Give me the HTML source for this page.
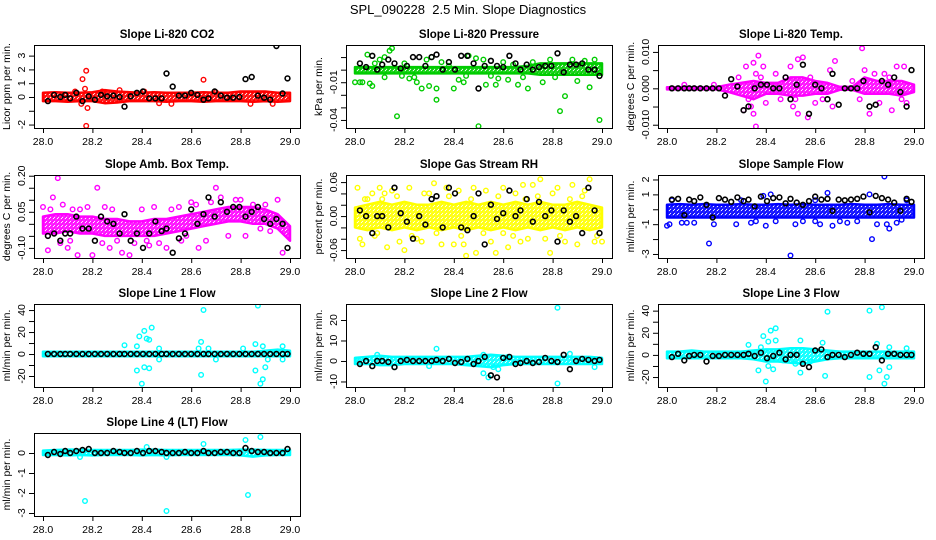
<!DOCTYPE html>
<html><head><meta charset="utf-8">
<style>
html,body{margin:0;padding:0;background:#fff;}
svg{display:block;font-family:"Liberation Sans",sans-serif;}
</style></head>
<body>
<svg id="chart" width="936" height="540" viewBox="0 0 936 540" xmlns="http://www.w3.org/2000/svg">
<rect width="936" height="540" fill="#fff"/>
<text x="468" y="14" text-anchor="middle" font-size="13" style="white-space:pre">SPL_090228  2.5 Min. Slope Diagnostics</text>
</svg>
<script>
// ---- shared data ----
const binX = [28.0,28.05,28.1,28.15,28.2,28.25,28.3,28.35,28.4,28.45,28.5,28.55,28.6,28.65,28.7,28.75,28.8,28.85,28.9,28.95,29.0];
const blackX = [28.02,28.045,28.07,28.09,28.11,28.135,28.16,28.185,28.21,28.235,28.26,28.285,28.31,28.33,28.355,28.38,28.405,28.43,28.455,28.48,28.5,28.525,28.55,28.575,28.6,28.625,28.65,28.67,28.695,28.72,28.745,28.77,28.795,28.82,28.845,28.87,28.895,28.92,28.945,28.97,28.99];
const xTicks = [28.0,28.2,28.4,28.6,28.8,29.0];
const xTickLabels = ["28.0","28.2","28.4","28.6","28.8","29.0"];

// ---- CO2 ----
const co2BandLo = [-0.3,-0.3,-0.35,-0.3,-0.3,-0.45,-0.4,-0.3,-0.3,-0.3,-0.35,-0.3,-0.3,-0.35,-0.3,-0.3,-0.3,-0.35,-0.3,-0.35,-0.3];
const co2BandHi = [0.3,0.35,0.3,0.3,0.35,0.5,0.4,0.35,0.3,0.35,0.3,0.3,0.3,0.35,0.3,0.3,0.4,0.4,0.4,0.3,0.3];
const co2Pts = [[28.175,1.9],[28.16,1.3],[28.175,-2.1],[28.65,1.25],[28.17,0.6],[28.18,-0.8],[28.155,-0.5],[28.31,0.5],[28.47,-0.45],[28.52,-0.5],[28.84,-0.5],[28.93,-0.5],[28.41,0.4],[28.13,0.4],[28.7,0.35],[28.24,0.4]];
const co2Black = [-0.3,0.15,0,0.15,-0.1,0.3,-0.3,0.05,-0.2,0.15,0.05,0.1,0,-0.7,0.05,0.3,0.4,-0.1,-0.1,-0.1,1.7,0.75,0.1,0.1,0.3,0.15,-0.2,-0.1,0.4,0.1,-0.05,-0.05,0,1.3,1.45,0.1,-0.05,-0.2,3.7,0.25,1.35];
const co2Ticks = [-2,-1,0,1,2,3];
const co2TickLabels = ["-2","","0","1","2","3"];

// ---- Pressure ----
const presBandLo = [-0.003,-0.003,-0.003,-0.003,-0.003,-0.003,-0.003,-0.003,-0.003,-0.003,-0.003,-0.003,-0.003,-0.003,-0.003,-0.004,-0.004,-0.004,-0.004,-0.004,-0.004];
const presBandHi = [0.002,0.002,0.002,0.002,0.002,0.002,0.002,0.002,0.002,0.002,0.002,0.002,0.002,0.002,0.003,0.005,0.005,0.005,0.005,0.005,0.005];
const presPts = [[28.0,-0.01],[28.02,-0.01],[28.05,0.012],[28.03,-0.01],[28.06,-0.011],[28.07,-0.013],[28.08,0.005],[28.1,0.008],[28.12,0.01],[28.14,0.015],[28.15,0.017],[28.17,-0.037],[28.19,-0.005],[28.2,0.005],[28.22,-0.007],[28.25,-0.01],[28.27,-0.015],[28.29,0.008],[28.3,-0.013],[28.33,-0.024],[28.33,-0.015],[28.35,0.006],[28.4,-0.015],[28.42,-0.008],[28.44,-0.01],[28.46,0.011],[28.49,0.009],[28.5,-0.045],[28.53,-0.012],[28.55,-0.005],[28.57,-0.012],[28.6,0.006],[28.62,-0.008],[28.66,-0.012],[28.7,-0.015],[28.72,0.006],[28.76,-0.01],[28.79,0.008],[28.83,-0.033],[28.85,-0.021],[28.88,0.008],[28.9,-0.009],[28.93,0.007],[28.95,-0.014],[28.97,0.008],[28.99,-0.04],[28.45,-0.005],[28.38,0.003],[28.64,0.004],[28.12,-0.006],[28.24,-0.006],[28.58,-0.007],[28.68,-0.006],[28.81,-0.006],[28.31,0.01],[28.52,0.008]];
const presBlack = [0.005,0.002,0.011,0.0,0.004,0.008,0.005,0.001,0.003,0.01,0.01,0.003,0.01,0.012,0.0,0.006,0.0,0.011,0.011,0.005,-0.015,0.003,0.007,0.003,0.002,0.011,0.005,0.0,0.004,0.0,0.002,0.003,0.003,0.013,-0.002,0.004,0.004,0.005,0.0,0.0,-0.005];
const presTicks = [-0.04,-0.03,-0.02,-0.01,0,0.01];
const presTickLabels = ["-0.04","","","-0.01","",""];

// ---- Li-820 Temp ----
const tempBandLo = [-0.0003,-0.0003,-0.0003,-0.0003,-0.0003,-0.001,-0.002,-0.003,-0.0015,-0.0015,-0.002,-0.002,-0.0015,-0.0015,-0.0004,-0.0004,-0.0015,-0.0015,-0.0015,-0.002,-0.001];
const tempBandHi = [0.0003,0.0003,0.0003,0.0003,0.0003,0.001,0.0015,0.002,0.0015,0.0015,0.003,0.003,0.002,0.0015,0.0004,0.0004,0.003,0.002,0.002,0.002,0.001];
const tempPts = [[28.32,0.006],[28.35,0.007],[28.36,0.004],[28.37,0.009],[28.39,0.006],[28.35,-0.007],[28.36,-0.0105],[28.31,-0.006],[28.4,-0.004],[28.34,-0.005],[28.53,0.008],[28.55,0.0085],[28.5,0.006],[28.51,-0.005],[28.53,-0.007],[28.57,-0.008],[28.58,0.003],[28.66,0.005],[28.68,0.0075],[28.67,-0.005],[28.79,0.011],[28.8,0.005],[28.82,-0.007],[28.86,-0.004],[28.91,-0.006],[28.93,0.006],[28.96,0.006],[28.97,-0.004],[28.07,0.001],[28.19,0.001],[28.44,0.004],[28.75,0.002],[28.88,0.004],[28.46,-0.003],[28.6,-0.004],[28.84,0.004],[28.29,0.003],[28.33,-0.003],[28.38,0.003],[28.48,0.003],[28.52,-0.003],[28.63,-0.003],[28.78,-0.003],[28.9,0.003],[28.95,-0.003]];
const tempBlack = [0,0,0,0,0,0,0,0,0,-0.002,0.0025,0.0005,-0.006,-0.005,0,0.001,0.001,0,0,0.003,-0.003,0.001,0.0065,-0.007,0.001,0,-0.003,0.004,-0.0045,0,0,0,0.002,-0.005,-0.0045,0.002,0.001,0.003,-0.001,-0.005,0.005];
const tempTicks = [-0.01,-0.005,0,0.005,0.01];
const tempTickLabels = ["-0.010","","0.000","","0.010"];

// ---- Amb Box Temp ----
const ambBandLo = [-0.04,-0.04,-0.03,-0.04,-0.04,-0.05,-0.05,-0.05,-0.05,-0.05,-0.04,-0.03,-0.02,-0.01,0.0,0.01,0.01,0.0,0.0,-0.02,-0.07];
const ambBandHi = [0.03,0.04,0.04,0.03,0.03,0.02,0.02,0.01,0.01,0.02,0.02,0.03,0.04,0.05,0.06,0.07,0.07,0.07,0.06,0.04,-0.01];
const ambPts = [[28.06,0.19],[28.04,0.11],[28.0,0.07],[28.02,-0.11],[28.08,0.08],[28.1,-0.1],[28.14,-0.13],[28.2,-0.13],[28.22,0.15],[28.12,0.06],[28.18,0.07],[28.25,0.07],[28.27,-0.1],[28.32,-0.12],[28.35,-0.13],[28.4,0.06],[28.43,-0.09],[28.5,-0.1],[28.55,0.07],[28.6,0.09],[28.63,-0.1],[28.7,0.15],[28.66,-0.07],[28.72,0.11],[28.8,0.1],[28.85,0.08],[28.9,0.08],[28.95,0.1],[28.97,-0.12],[28.75,-0.05],[28.82,-0.05],[28.45,0.07],[28.3,-0.07],[28.58,-0.05],[28.88,-0.02],[28.07,-0.08],[28.37,-0.08],[28.15,0.06],[28.28,0.06],[28.52,0.06],[28.47,-0.08],[28.62,0.08],[28.03,0.06],[28.11,-0.07],[28.24,-0.08],[28.42,-0.07],[28.56,-0.07],[28.68,0.09],[28.78,0.1],[28.92,-0.03]];
const ambBlack = [-0.05,-0.04,-0.07,-0.04,-0.04,0.03,-0.02,-0.02,-0.07,0.03,0.01,0.0,-0.04,0.04,-0.07,-0.04,-0.1,-0.04,0.01,-0.03,-0.02,-0.12,-0.06,-0.04,0.06,0.0,0.04,0.11,0.03,0.09,0.05,0.07,0.07,0.03,0.05,0.07,0.02,0.0,0.02,0.0,-0.1];
const ambTicks = [-0.1,-0.05,0,0.05,0.1,0.15,0.2];
const ambTickLabels = ["-0.10","","","0.05","","","0.20"];

// ---- Gas Stream RH ----
const rhBandLo = [-0.02,-0.025,-0.02,-0.025,-0.02,-0.025,-0.02,-0.025,-0.02,-0.025,-0.02,-0.025,-0.02,-0.025,-0.02,-0.025,-0.02,-0.025,-0.02,-0.025,-0.02];
const rhBandHi = [0.015,0.02,0.025,0.02,0.025,0.02,0.02,0.025,0.02,0.025,0.02,0.025,0.02,0.025,0.02,0.025,0.02,0.02,0.025,0.02,0.015];
const rhPts = [[28.01,0.05],[28.02,-0.04],[28.03,-0.05],[28.05,0.03],[28.07,0.04],[28.09,-0.03],[28.1,0.05],[28.13,-0.055],[28.15,0.045],[28.18,-0.045],[28.2,-0.06],[28.22,0.05],[28.25,-0.04],[28.28,0.04],[28.3,0.04],[28.32,0.058],[28.35,-0.05],[28.37,0.05],[28.4,-0.05],[28.42,0.045],[28.44,-0.05],[28.45,-0.07],[28.48,0.05],[28.49,-0.065],[28.52,-0.03],[28.55,-0.045],[28.57,-0.065],[28.6,0.05],[28.62,-0.055],[28.65,0.04],[28.67,-0.045],[28.68,0.055],[28.72,0.055],[28.75,0.065],[28.77,-0.04],[28.79,-0.065],[28.82,0.05],[28.85,-0.045],[28.88,0.055],[28.9,-0.05],[28.93,0.045],[28.95,0.065],[28.97,-0.045],[29.0,-0.045],[28.33,-0.03],[28.6,-0.03],[28.87,0.03],[28.12,0.04],[28.27,-0.045],[28.53,0.045],[28.7,-0.04],[28.8,0.04],[28.04,0.03],[28.08,-0.035],[28.17,0.035],[28.23,-0.035],[28.38,0.035],[28.43,-0.035],[28.58,0.035],[28.64,-0.035],[28.74,0.035],[28.83,-0.035],[28.92,0.035],[28.98,-0.035],[28.11,0.03],[28.47,0.03],[28.69,0.03]];
const rhBlack = [0.01,0.0,-0.03,-0.0,0.0,-0.02,0.05,0.005,-0.01,-0.04,0.0,-0.015,0.03,0.035,-0.02,0.05,0.04,-0.02,-0.025,0.0,0.04,-0.05,0.02,-0.005,0.005,0.045,0.0,0.01,0.03,-0.01,0.025,0.0,0.01,-0.045,0.01,-0.01,0.0,-0.03,0.05,0.01,-0.03];
const rhTicks = [-0.06,-0.04,-0.02,0,0.02,0.04,0.06];
const rhTickLabels = ["-0.06","","","0.00","","","0.06"];

// ---- Sample Flow ----
const sfBandLo = [-0.55,-0.55,-0.55,-0.55,-0.55,-0.55,-0.55,-0.55,-0.55,-0.55,-0.55,-0.55,-0.55,-0.55,-0.55,-0.55,-0.55,-0.55,-0.55,-0.55,-0.55];
const sfBandHi = [0.3,0.35,0.3,0.35,0.3,0.3,0.35,0.3,0.3,0.35,0.3,0.35,0.3,0.3,0.3,0.35,0.3,0.3,0.35,0.3,0.3];
const sfPts = [[28.0,-1.1],[28.01,-1.0],[28.06,-0.9],[28.08,-0.9],[28.11,-0.9],[28.17,-2.3],[28.19,-1.0],[28.28,-1.0],[28.34,-0.9],[28.36,-0.8],[28.4,-1.1],[28.39,0.9],[28.42,1.0],[28.44,-0.8],[28.5,-3.1],[28.52,-1.0],[28.55,-0.8],[28.6,-0.8],[28.62,-1.0],[28.65,1.1],[28.67,-1.1],[28.7,-0.8],[28.73,-0.9],[28.77,-0.8],[28.82,1.0],[28.83,-2.0],[28.85,-1.0],[28.88,2.2],[28.89,-1.0],[28.9,-1.3],[28.93,-0.9],[28.95,-0.7],[28.97,0.6],[28.02,0.6],[28.3,0.6],[28.6,0.6]];
const sfBlack = [0.65,0.7,-0.4,0.65,0.55,0.8,0.3,-0.55,0.75,0.65,0.5,0.8,0.55,0.65,0.2,0.85,0.55,0.75,0.8,0.4,0.7,0.45,0.3,0.55,0.85,0.65,0.7,-0.1,0.65,0.6,0.65,0.7,0.85,-0.2,0.9,0.75,0.65,0.45,-0.1,0.7,0.5];
const sfTicks = [-3,-2,-1,0,1,2];
const sfTickLabels = ["-3","","-1","","1","2"];

// ---- Line 1 ----
const l1BandLo = [-2,-2,-2,-2,-2,-2,-2,-2,-2,-2,-2,-2,-2,-2,-2,-2,-2,-2,-2,-2,-2];
const l1BandHi = [2,2,2,2,2,2,2,2,2,2,2,2,2,2,2,2,2,2,3,4,3];
const l1Pts = [[28.33,8],[28.38,-15],[28.38,7],[28.39,16],[28.4,-27],[28.41,-12],[28.41,21],[28.42,14],[28.43,13],[28.43,-13],[28.44,24],[28.47,-5],[28.64,11],[28.64,-19],[28.65,40],[28.67,5],[28.7,-5],[28.81,5],[28.86,9],[28.86,-15],[28.87,44],[28.88,-27],[28.89,-23],[28.89,7],[28.9,-12],[28.91,-5],[28.97,7],[28.97,-5],[28.63,5],[28.47,5]];
const l1Black = [0,0,0,0,0,0,0,0,0,0,0,0,0,0,0,0,0,0,0,0,0,0,0,0,0,0,0,0,0,0,0,0,0,0,0,0,0,0,0,0,0];
const l1Ticks = [-20,-10,0,10,20,30,40];
const l1TickLabels = ["-20","","0","","20","","40"];

// ---- Line 2 ----
const l2BandLo = [-1.5,-1.5,-2,-2,-1.5,-1.5,-1.5,-1.5,-1.5,-2,-2.5,-3,-2,-1.5,-1.5,-1.5,-1.5,-1.5,-1.5,-1.5,-1.5];
const l2BandHi = [1.5,2,2.5,2,2,2,2,2,2,2,2.5,3,2.5,2,2,2,2,2,2,2,1.5];
const l2Pts = [[28.33,6],[28.52,-6],[28.54,-8],[28.55,-7],[28.56,-3],[28.58,-4],[28.82,26],[28.82,-11],[28.87,3.5],[28.97,-3],[28.09,3],[28.52,3],[28.16,-3],[28.3,-2.5],[28.62,2]];
const l2Black = [-1.5,0,-2.5,0,0,-0.5,-3,0,0.5,0,0,0,0,0.5,0,1,-1,-0.5,1,-1.5,0,2,-7,-8,1.5,2,-1.5,-1,0,-1,-0.5,1.5,0,-0.5,3,-4,0,1,0.5,0,0.5];
const l2Ticks = [-10,0,10,20];
const l2TickLabels = ["-10","0","10","20"];

// ---- Line 3 ----
const l3BandLo = [-3,-3,-3,-3,-3,-3,-3,-4,-6,-6,-7,-8,-6,-4,-3,-3,-3,-3,-3,-3,-3];
const l3BandHi = [3,3,4,3,3,3,3,4,5,5,6,6,5,4,3,3,3,3,3,3,3];
const l3Pts = [[28.33,9],[28.37,-14],[28.38,7],[28.39,17],[28.4,-24],[28.41,-10],[28.41,12],[28.42,22],[28.43,-13],[28.44,13],[28.44,24],[28.54,13],[28.52,-8],[28.54,-16],[28.63,11],[28.64,-19],[28.65,39],[28.82,40],[28.82,-20],[28.85,10],[28.86,-14],[28.87,43],[28.88,-26],[28.89,-20],[28.9,7],[28.9,-11],[28.97,6],[28.58,-6],[28.47,-5]];
const l3Black = [-2,1,-5,-1,0,0,-6,-1,-1,0,0,0,0,1,-1,2,-3,-1,2,-4,0,0,-8,-11,4,5,-2,0,0,-2,0,2,1,1,7,-5,1,1,0,0,0];
const l3Ticks = [-20,-10,0,10,20,30,40];
const l3TickLabels = ["-20","","0","","20","","40"];

// ---- Line 4 ----
const l4BandLo = [-0.1,-0.1,-0.12,-0.1,-0.12,-0.1,-0.1,-0.1,-0.12,-0.1,-0.12,-0.1,-0.1,-0.1,-0.1,-0.1,-0.12,-0.18,-0.12,-0.1,-0.1];
const l4BandHi = [0.12,0.15,0.17,0.17,0.15,0.15,0.15,0.15,0.17,0.17,0.15,0.15,0.15,0.15,0.15,0.15,0.17,0.17,0.15,0.15,0.15];
const l4Pts = [[28.17,-2.4],[28.5,-2.9],[28.83,-2.1],[28.65,0.45],[28.82,0.65],[28.88,0.8],[28.42,0.3],[28.15,-0.2],[28.5,-0.2]];
const l4Black = [-0.1,0.05,-0.05,0.1,0,0.1,0.15,0.2,0,0,0,0.1,0.05,0,0,0.1,0,0.1,0.1,0.05,0,0,0,0.05,0,0,0.1,0,0,0.05,0.05,0,0,0.25,0.1,0.05,0.05,0,0,0,0.2];
const l4Ticks = [-3,-2,-1,0];
const l4TickLabels = ["-3","-2","-1","0"];

// ---- layout / rendering ----
const colL = [34,346,658], rowT = [45,175,304,433], boxW = 266, boxH = 83;
const panels = [
 {name:'co2',title:'Slope Li-820 CO2',ylab:'Licor ppm per min.',c:0,r:0,ymin:-2.25,ymax:3.77,color:'#ff0000',lo:co2BandLo,hi:co2BandHi,pts:co2Pts,blk:co2Black,ticks:co2Ticks,tl:co2TickLabels},
 {name:'pressure',title:'Slope Li-820 Pressure',ylab:'kPa per min.',c:1,r:0,ymin:-0.0464,ymax:0.0196,color:'#00cc00',lo:presBandLo,hi:presBandHi,pts:presPts,blk:presBlack,ticks:presTicks,tl:presTickLabels},
 {name:'li820-temp',title:'Slope Li-820 Temp.',ylab:'degrees C per min.',c:2,r:0,ymin:-0.0109,ymax:0.0119,color:'#ff00ff',lo:tempBandLo,hi:tempBandHi,pts:tempPts,blk:tempBlack,ticks:tempTicks,tl:tempTickLabels},
 {name:'amb-box-temp',title:'Slope Amb. Box Temp.',ylab:'degrees C per min.',c:0,r:1,ymin:-0.142,ymax:0.203,color:'#ff00ff',lo:ambBandLo,hi:ambBandHi,pts:ambPts,blk:ambBlack,ticks:ambTicks,tl:ambTickLabels},
 {name:'gas-stream-rh',title:'Slope Gas Stream RH',ylab:'percent per min.',c:1,r:1,ymin:-0.074,ymax:0.0725,color:'#ffff00',lo:rhBandLo,hi:rhBandHi,pts:rhPts,blk:rhBlack,ticks:rhTicks,tl:rhTickLabels},
 {name:'sample-flow',title:'Slope Sample Flow',ylab:'ml/min per min.',c:2,r:1,ymin:-3.27,ymax:2.3,color:'#0000ff',lo:sfBandLo,hi:sfBandHi,pts:sfPts,blk:sfBlack,ticks:sfTicks,tl:sfTickLabels},
 {name:'line1-flow',title:'Slope Line 1 Flow',ylab:'ml/min per min.',c:0,r:2,ymin:-30,ymax:45.5,color:'#00ffff',lo:l1BandLo,hi:l1BandHi,pts:l1Pts,blk:l1Black,ticks:l1Ticks,tl:l1TickLabels},
 {name:'line2-flow',title:'Slope Line 2 Flow',ylab:'ml/min per min.',c:1,r:2,ymin:-12.7,ymax:27.8,color:'#00ffff',lo:l2BandLo,hi:l2BandHi,pts:l2Pts,blk:l2Black,ticks:l2Ticks,tl:l2TickLabels},
 {name:'line3-flow',title:'Slope Line 3 Flow',ylab:'ml/min per min.',c:2,r:2,ymin:-29,ymax:46,color:'#00ffff',lo:l3BandLo,hi:l3BandHi,pts:l3Pts,blk:l3Black,ticks:l3Ticks,tl:l3TickLabels},
 {name:'line4-flow',title:'Slope Line 4 (LT) Flow',ylab:'ml/min per min.',c:0,r:3,ymin:-3.15,ymax:1.0,color:'#00ffff',lo:l4BandLo,hi:l4BandHi,pts:l4Pts,blk:l4Black,ticks:l4Ticks,tl:l4TickLabels}
];
const NS='http://www.w3.org/2000/svg';
const svg=document.getElementById('chart');
function mk(tag,attrs,parent){const e=document.createElementNS(NS,tag);for(const k in attrs)e.setAttribute(k,attrs[k]);(parent||svg).appendChild(e);return e;}
const defs=mk('defs',{});
panels.forEach(p=>{
  const L=colL[p.c],T=rowT[p.r],R=L+boxW,B=T+boxH;
  const xs=v=>L+9+(v-28.0)*247;
  const ys=v=>B-(v-p.ymin)/(p.ymax-p.ymin)*boxH;
  const g=mk('g',{});
  
  
  const clipId='clip-'+p.name;
  const cp=mk('clipPath',{id:clipId},defs);mk('rect',{x:L,y:T,width:boxW,height:boxH},cp);
  const patId='pat-'+p.name;
  const pat=mk('pattern',{id:patId,width:4,height:4,patternUnits:'userSpaceOnUse'},defs);
  mk('circle',{cx:2,cy:2,r:1.9,fill:'none',stroke:p.color,'stroke-width':1.1},pat);
  mk('circle',{cx:0,cy:0,r:1.9,fill:'none',stroke:p.color,'stroke-width':1.1},pat);
  mk('circle',{cx:4,cy:4,r:1.9,fill:'none',stroke:p.color,'stroke-width':1.1},pat);
  const plot=mk('g',{'clip-path':'url(#'+clipId+')'},g);
  let d='';
  binX.forEach((x,i)=>{d+=(i?'L':'M')+xs(x).toFixed(1)+','+ys(p.hi[i]).toFixed(1);});
  for(let i=binX.length-1;i>=0;i--)d+='L'+xs(binX[i]).toFixed(1)+','+ys(p.lo[i]).toFixed(1);
  d+='Z';
  const band=mk('path',{d:d,fill:'url(#'+patId+')',stroke:p.color,'stroke-width':2.5,'stroke-linejoin':'round'},plot);
  
  
  p.pts.forEach(pt=>{
    const c=mk('circle',{cx:xs(pt[0]).toFixed(1),cy:ys(pt[1]).toFixed(1),r:2.3,fill:'none',stroke:p.color,'stroke-width':1.4},plot);
    
    
  });
  blackX.forEach((x,i)=>{
    const c=mk('circle',{cx:xs(x).toFixed(1),cy:ys(p.blk[i]).toFixed(1),r:2.4,fill:'none',stroke:'#000','stroke-width':1.6},plot);
    
    
  });
  const box=mk('rect',{x:L+0.5,y:T+0.5,width:boxW,height:boxH,fill:'none',stroke:'#000','stroke-width':1},g);
  
  
  const t=mk('text',{x:(L+R)/2,y:T-7,'text-anchor':'middle','font-size':11.5,'font-weight':'bold'},g);
  t.textContent=p.title;
  
  
  const xa=mk('g',{},g);
  
  
  xTicks.forEach((v,i)=>{
    mk('line',{x1:xs(v)+0.5,x2:xs(v)+0.5,y1:B,y2:B+5,stroke:'#000'},xa);
    const tx=mk('text',{x:xs(v),y:B+17,'text-anchor':'middle','font-size':10.5},xa);
    tx.textContent=xTickLabels[i];
  });
  const ya=mk('g',{},g);
  
  
  p.ticks.forEach((v,i)=>{
    const y=ys(v);
    mk('line',{x1:L-5,x2:L,y1:y+0.5,y2:y+0.5,stroke:'#000'},ya);
    if(p.tl[i]){
      const tx=mk('text',{x:L-9,y:y,'text-anchor':'middle','font-size':10.5,transform:'rotate(-90 '+(L-9)+' '+y+')'},ya);
      tx.textContent=p.tl[i];
    }
  });
  const yl=mk('text',{x:L-24,y:(T+B)/2,'text-anchor':'middle','font-size':10.5,transform:'rotate(-90 '+(L-24)+' '+((T+B)/2)+')'},g);
  yl.textContent=p.ylab;
  
  
});
</script>
</body></html>
